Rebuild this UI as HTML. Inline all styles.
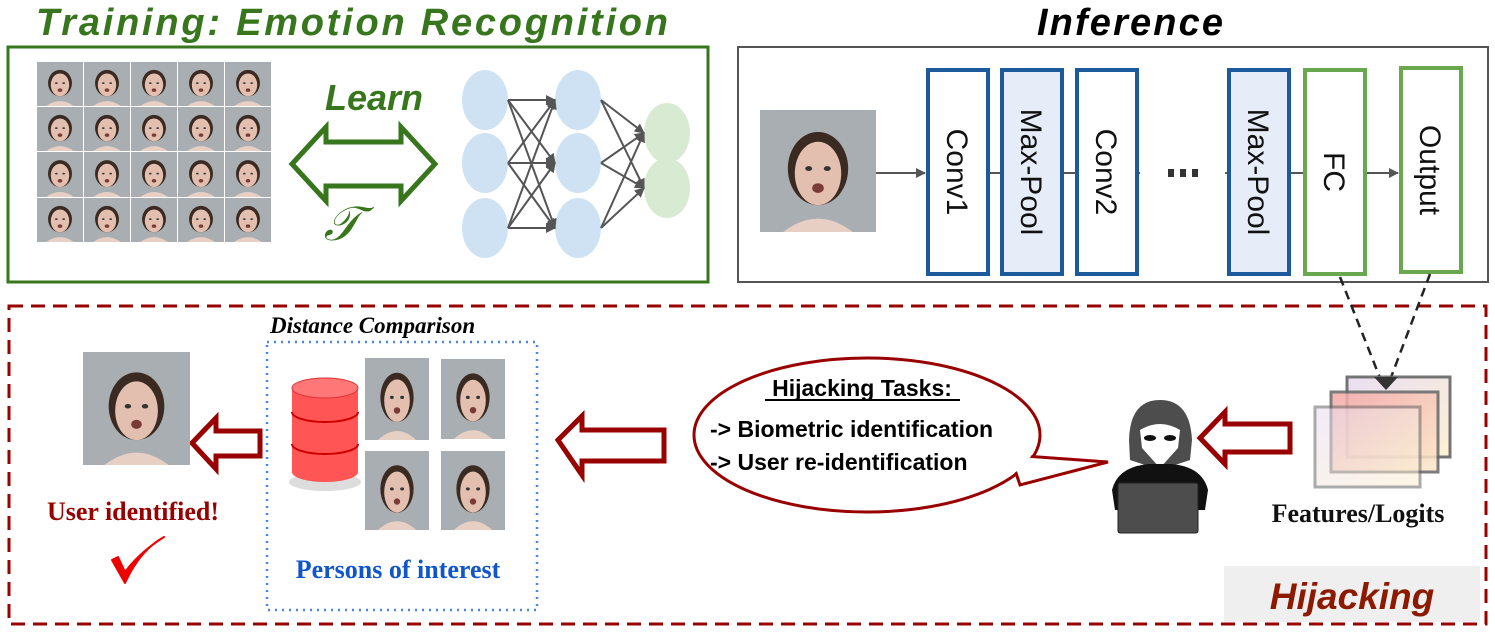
<!DOCTYPE html>
<html><head><meta charset="utf-8"><style>html,body{margin:0;padding:0;background:#fff}svg{display:block}</style></head>
<body>
<svg width="1495" height="635" viewBox="0 0 1495 635" xmlns="http://www.w3.org/2000/svg">
<defs>
<symbol id="face" viewBox="0 0 100 100" preserveAspectRatio="none">
<rect width="100" height="100" fill="#a9aeb2"/>
<ellipse cx="50" cy="48" rx="26" ry="30" fill="#3a2a22"/>
<ellipse cx="50" cy="52" rx="20" ry="26" fill="#e2bfae"/>
<path d="M20 100 Q50 78 80 100Z" fill="#e8cfc4"/>
<ellipse cx="42" cy="48" rx="3" ry="2" fill="#333"/><ellipse cx="58" cy="48" rx="3" ry="2" fill="#333"/>
<ellipse cx="50" cy="64" rx="5" ry="4" fill="#7a3a36"/>
</symbol>
<linearGradient id="fg" x1="0" y1="0" x2="1" y2="1"><stop offset="0" stop-color="#f4a6a6"/><stop offset="1" stop-color="#fbe9c8"/></linearGradient>
<linearGradient id="fg2" x1="0" y1="0" x2="1" y2="1"><stop offset="0" stop-color="#e8dcf2"/><stop offset="1" stop-color="#fdf0d0"/></linearGradient>
<marker id="ah" markerWidth="10" markerHeight="10" refX="9" refY="5" orient="auto" markerUnits="userSpaceOnUse"><path d="M0 0L10 5L0 10Z" fill="#555"/></marker>
</defs>

<!-- Training -->
<text x="352" y="35" text-anchor="middle" font-family="Liberation Sans, sans-serif" font-weight="bold" font-style="italic" font-size="38" fill="#38761d" textLength="632">Training: Emotion Recognition</text>
<rect x="8" y="47" width="700" height="235" fill="none" stroke="#38761d" stroke-width="3"/>
<g>
<use href="#face" x="37" y="62" width="46" height="44"/><use href="#face" x="84" y="62" width="46" height="44"/><use href="#face" x="131" y="62" width="46" height="44"/><use href="#face" x="178" y="62" width="46" height="44"/><use href="#face" x="225" y="62" width="46" height="44"/>
<use href="#face" x="37" y="107" width="46" height="44"/><use href="#face" x="84" y="107" width="46" height="44"/><use href="#face" x="131" y="107" width="46" height="44"/><use href="#face" x="178" y="107" width="46" height="44"/><use href="#face" x="225" y="107" width="46" height="44"/>
<use href="#face" x="37" y="152" width="46" height="45"/><use href="#face" x="84" y="152" width="46" height="45"/><use href="#face" x="131" y="152" width="46" height="45"/><use href="#face" x="178" y="152" width="46" height="45"/><use href="#face" x="225" y="152" width="46" height="45"/>
<use href="#face" x="37" y="198" width="46" height="44"/><use href="#face" x="84" y="198" width="46" height="44"/><use href="#face" x="131" y="198" width="46" height="44"/><use href="#face" x="178" y="198" width="46" height="44"/><use href="#face" x="225" y="198" width="46" height="44"/>
</g>
<text x="374" y="110" text-anchor="middle" font-family="Liberation Sans, sans-serif" font-weight="bold" font-style="italic" font-size="36" fill="#38761d">Learn</text>
<path d="M292 164 L326 127 L326 142 L401 142 L401 127 L435 164 L401 201 L401 186 L326 186 L326 201 Z" fill="none" stroke="#38761d" stroke-width="5" stroke-linejoin="miter"/>
<text x="342" y="240" text-anchor="middle" font-family="Liberation Serif, serif" font-style="italic" font-size="48" fill="#38761d">𝒯</text>
<g fill="#cfe2f3">
<ellipse cx="485" cy="100" rx="23" ry="30"/><ellipse cx="485" cy="163" rx="23" ry="30"/><ellipse cx="485" cy="228" rx="23" ry="30"/>
<ellipse cx="578" cy="100" rx="23" ry="30"/><ellipse cx="578" cy="163" rx="23" ry="30"/><ellipse cx="578" cy="228" rx="23" ry="30"/>
</g>
<g fill="#d9ead3"><ellipse cx="667" cy="133" rx="23" ry="30"/><ellipse cx="667" cy="188" rx="23" ry="30"/></g>
<g stroke="#555" stroke-width="2" marker-end="url(#ah)">
<line x1="508" y1="100" x2="555" y2="100"/><line x1="508" y1="100" x2="555" y2="163"/><line x1="508" y1="100" x2="555" y2="228"/>
<line x1="508" y1="163" x2="555" y2="100"/><line x1="508" y1="163" x2="555" y2="163"/><line x1="508" y1="163" x2="555" y2="228"/>
<line x1="508" y1="228" x2="555" y2="100"/><line x1="508" y1="228" x2="555" y2="163"/><line x1="508" y1="228" x2="555" y2="228"/>
<line x1="601" y1="100" x2="644" y2="133"/><line x1="601" y1="100" x2="644" y2="188"/>
<line x1="601" y1="163" x2="644" y2="133"/><line x1="601" y1="163" x2="644" y2="188"/>
<line x1="601" y1="228" x2="644" y2="133"/><line x1="601" y1="228" x2="644" y2="188"/>
</g>

<!-- Inference -->
<text x="1130" y="35" text-anchor="middle" font-family="Liberation Sans, sans-serif" font-weight="bold" font-style="italic" font-size="38" fill="#000" textLength="186">Inference</text>
<rect x="738" y="47" width="750" height="235" fill="none" stroke="#555" stroke-width="2"/>
<use href="#face" x="760" y="110" width="116" height="122"/>
<line x1="876" y1="173" x2="925" y2="173" stroke="#555" stroke-width="2" marker-end="url(#ah)"/>
<line x1="988" y1="173" x2="1001" y2="173" stroke="#555" stroke-width="2"/>
<line x1="1063" y1="173" x2="1076" y2="173" stroke="#555" stroke-width="2"/>
<line x1="1138" y1="173" x2="1228" y2="173" stroke="#555" stroke-width="2"/>
<rect x="1140" y="166" width="85" height="14" fill="#fff"/>
<g fill="#333"><rect x="1168" y="169" width="6" height="8"/><rect x="1180" y="169" width="6" height="8"/><rect x="1192" y="169" width="6" height="8"/></g>
<line x1="1290" y1="173" x2="1304" y2="173" stroke="#555" stroke-width="2"/>
<line x1="1366" y1="173" x2="1398" y2="173" stroke="#555" stroke-width="2" marker-end="url(#ah)"/>
<g stroke-width="4">
<rect x="928" y="70" width="60" height="204" fill="#fff" stroke="#1c5a9c"/>
<rect x="1002" y="70" width="60" height="204" fill="#e6ecf8" stroke="#1c5a9c"/>
<rect x="1077" y="70" width="60" height="204" fill="#fff" stroke="#1c5a9c"/>
<rect x="1229" y="70" width="60" height="204" fill="#e6ecf8" stroke="#1c5a9c"/>
<rect x="1305" y="70" width="60" height="204" fill="#fff" stroke="#6aa84f"/>
<rect x="1401" y="68" width="60" height="204" fill="#fff" stroke="#6aa84f"/>
</g>
<g font-family="Liberation Sans, sans-serif" font-size="30" fill="#111" text-anchor="middle">
<text transform="translate(947,172) rotate(90)">Conv1</text>
<text transform="translate(1021,172) rotate(90)">Max-Pool</text>
<text transform="translate(1096,172) rotate(90)">Conv2</text>
<text transform="translate(1248,172) rotate(90)">Max-Pool</text>
<text transform="translate(1324,172) rotate(90)">FC</text>
<text transform="translate(1420,170) rotate(90)">Output</text>
</g>

<!-- Hijacking -->
<rect x="9" y="306" width="1477" height="318" fill="none" stroke="#990000" stroke-width="3" stroke-dasharray="14,8"/>
<rect x="1224" y="566" width="256" height="56" fill="#efefef"/>
<text x="1352" y="609" text-anchor="middle" font-family="Liberation Sans, sans-serif" font-weight="bold" font-style="italic" font-size="37" fill="#8b1a00">Hijacking</text>
<g stroke="#222" stroke-width="2.5" stroke-dasharray="9,6">
<line x1="1340" y1="277" x2="1384" y2="388"/><line x1="1430" y1="274" x2="1387" y2="388"/>
</g>
<rect x="1347" y="377" width="103" height="80" fill="url(#fg2)" stroke="#666" stroke-width="3" opacity="0.9"/>
<rect x="1331" y="392" width="107" height="80" fill="url(#fg)" stroke="#666" stroke-width="3" opacity="0.85"/>
<rect x="1315" y="407" width="105" height="80" fill="url(#fg2)" stroke="#666" stroke-width="3" opacity="0.55"/>
<path d="M1374 377 L1386 390 L1398 377Z" fill="#333"/>
<text x="1358" y="522" text-anchor="middle" font-family="Liberation Serif, serif" font-weight="bold" font-size="26" fill="#111">Features/Logits</text>

<!-- hacker -->
<path d="M1129 440 Q1130 400 1160 400 Q1190 400 1192 440 L1190 460 L1160 470 L1130 460Z" fill="#4d4d4d"/>
<path d="M1140 430 Q1160 418 1180 430 L1178 448 L1160 468 L1142 448Z" fill="#fff"/>
<ellipse cx="1150" cy="438" rx="6" ry="3" fill="#111"/><ellipse cx="1170" cy="438" rx="6" ry="3" fill="#111"/>
<path d="M1112 490 Q1118 466 1150 464 L1170 464 Q1202 466 1208 490 L1205 510 L1115 510Z" fill="#111"/>
<rect x="1118" y="483" width="80" height="50" rx="2" fill="#4d4d4d" stroke="#222"/>
<path d="M1200 438 L1225 412 L1225 424 L1290 424 L1290 452 L1225 452 L1225 464Z" fill="#fff" stroke="#990000" stroke-width="5"/>

<!-- speech bubble -->
<ellipse cx="867" cy="435" rx="173" ry="77" fill="#fff" stroke="#990000" stroke-width="3"/>
<path d="M1010 455 L1108 462 L1020 485Z" fill="#fff" stroke="#990000" stroke-width="3" stroke-linejoin="miter"/>
<ellipse cx="867" cy="435" rx="171" ry="75" fill="#fff"/>
<text x="862" y="396" text-anchor="middle" font-family="Liberation Sans, sans-serif" font-weight="bold" font-size="23" fill="#000">Hijacking Tasks:</text>
<line x1="765" y1="400" x2="960" y2="400" stroke="#000" stroke-width="2"/>
<text x="710" y="437" font-family="Liberation Sans, sans-serif" font-weight="bold" font-size="23" fill="#000">-&gt; Biometric identification</text>
<text x="710" y="470" font-family="Liberation Sans, sans-serif" font-weight="bold" font-size="23" fill="#000">-&gt; User re-identification</text>

<path d="M558 440 L582 416 L582 430 L664 430 L664 461 L582 461 L582 475Z" fill="#fff" stroke="#990000" stroke-width="5"/>

<!-- distance comparison -->
<text x="270" y="333" font-family="Liberation Serif, serif" font-weight="bold" font-style="italic" font-size="23" fill="#000">Distance Comparison</text>
<rect x="267" y="342" width="270" height="268" fill="none" stroke="#4a86e8" stroke-width="2.5" stroke-dasharray="2,5"/>
<ellipse cx="325" cy="482" rx="36" ry="9" fill="#ddd"/>
<path d="M292 388 L292 472 A33 10 0 0 0 358 472 L358 388Z" fill="#f55"/>
<path d="M292 412 A33 10 0 0 0 358 412 M292 444 A33 10 0 0 0 358 444" fill="none" stroke="#c00" stroke-width="2"/>
<ellipse cx="325" cy="388" rx="33" ry="10" fill="#f77" stroke="#d33"/>
<use href="#face" x="365" y="358" width="64" height="82"/>
<use href="#face" x="441" y="359" width="64" height="80"/>
<use href="#face" x="365" y="451" width="64" height="79"/>
<use href="#face" x="441" y="451" width="64" height="79"/>
<text x="398" y="578" text-anchor="middle" font-family="Liberation Serif, serif" font-weight="bold" font-size="26" fill="#1155cc">Persons of interest</text>

<path d="M192 443 L216 418 L216 431 L260 431 L260 456 L216 456 L216 469Z" fill="#fff" stroke="#990000" stroke-width="5"/>
<use href="#face" x="83" y="352" width="107" height="113"/>
<text x="133" y="520" text-anchor="middle" font-family="Liberation Serif, serif" font-weight="bold" font-size="26" fill="#990000">User identified!</text>
<path d="M112 560 L125 583 Q140 550 164 537 Q140 552 125 572 L118 557Z" fill="#e00" stroke="#e00" stroke-width="2" stroke-linejoin="round"/>
</svg>
</body></html>
